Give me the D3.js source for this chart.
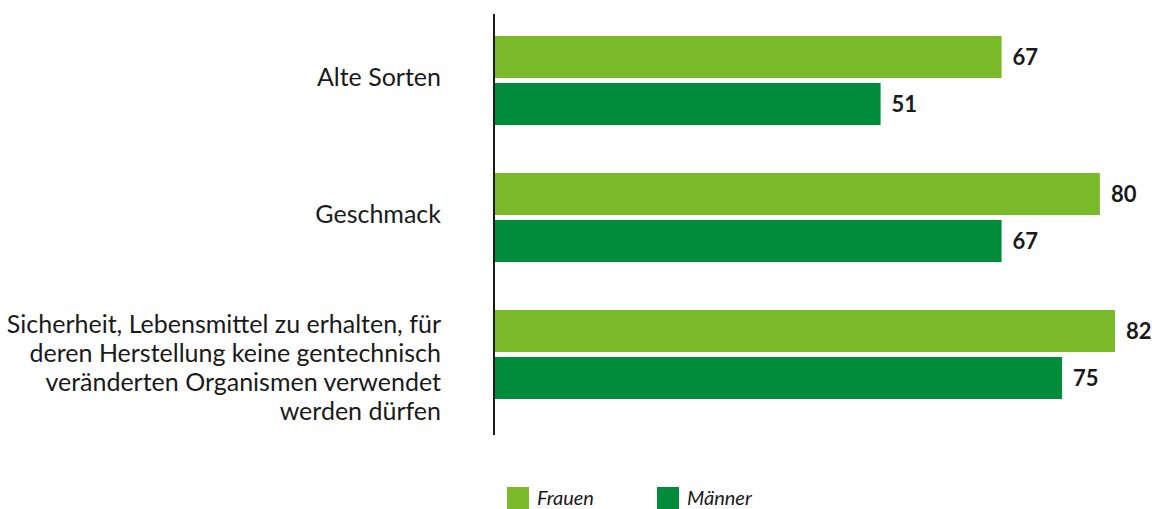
<!DOCTYPE html>
<html>
<head>
<meta charset="utf-8">
<script src="https://cdn.jsdelivr.net/npm/d3@7"></script>
<style>
  body { margin: 0; background: #fff; }
  text { font-family: Lato, "Noto Sans", sans-serif; fill: #1a1a1a; }
</style>
</head>
<body>
<div id="chart"></div>
<script>
var categories = [
    ["Alte Sorten"],
    ["Geschmack"],
    ["Sicherheit, Lebensmittel zu erhalten, für", "deren Herstellung keine gentechnisch", "veränderten Organismen verwendet", "werden dürfen"]
];
var frauen = [67, 80, 82];
var maenner = [51, 67, 75];
var seriesNames = ["Frauen", "Männer"];
var colors = ["#7ab92a", "#008c3a"];

var width = 1152, height = 509;

var svg = d3.select("#chart")
    .append("svg")
    .attr("width", width)
    .attr("height", height);

var x = d3.scaleLinear().domain([0, 82]).range([495, 1115]);
var y = d3.scaleBand().domain(d3.range(categories.length)).range([36, 399]).paddingInner(0.35).paddingOuter(0);
var inner = d3.scaleBand().domain([0, 1]).range([0, y.bandwidth()]).paddingInner(0.106);

var data = categories.map(function (c, i) {
    return {i: i, lines: c, values: [frauen[i], maenner[i]]};
});

var groups = svg.selectAll("g.group")
    .data(data)
    .enter().append("g")
    .attr("class", "group")
    .attr("transform", function (d) { return "translate(0," + y(d.i) + ")"; });

groups.selectAll("rect")
    .data(function (d) { return d.values; })
    .enter().append("rect")
    .attr("x", x(0))
    .attr("y", function (d, j) { return inner(j); })
    .attr("width", function (d) { return x(d) - x(0); })
    .attr("height", inner.bandwidth())
    .style("fill", function (d, j) { return colors[j]; });

groups.selectAll("text.value")
    .data(function (d) { return d.values; })
    .enter().append("text")
    .attr("class", "value")
    .attr("x", function (d) { return x(d) + 11; })
    .attr("y", function (d, j) { return inner(j) + inner.bandwidth() / 2; })
    .attr("dy", "0.35em")
    .style("font-size", "22px")
    .style("font-weight", "bold")
    .text(function (d) { return d; });

// category labels, right aligned left of the axis
var lineH = 29;
groups.each(function (d) {
    var n = d.lines.length;
    var shift = n > 1 ? 13 : -3;
    var t = d3.select(this).append("text")
        .attr("text-anchor", "end")
        .style("font-size", "25px");
    d.lines.forEach(function (l, k) {
        t.append("tspan")
            .attr("x", 441)
            .attr("y", y.bandwidth() / 2 + shift + (k - (n - 1) / 2) * lineH)
            .attr("dy", "0.35em")
            .text(l);
    });
});

// vertical axis line
svg.append("line")
    .attr("x1", 494).attr("x2", 494)
    .attr("y1", 14).attr("y2", 435)
    .style("stroke", "#1a1a1a")
    .style("stroke-width", 2);

// legend
var legend = svg.selectAll("g.legend")
    .data(seriesNames)
    .enter().append("g")
    .attr("class", "legend")
    .attr("transform", function (d, i) { return "translate(" + (507 + i * 150) + ",487)"; });

legend.append("rect")
    .attr("width", 22).attr("height", 22)
    .style("fill", function (d, i) { return colors[i]; });

legend.append("text")
    .attr("x", 30)
    .attr("y", 11)
    .attr("dy", "0.35em")
    .style("font-size", "20px")
    .style("font-style", "italic")
    .text(function (d) { return d; });
</script>
</body>
</html>
